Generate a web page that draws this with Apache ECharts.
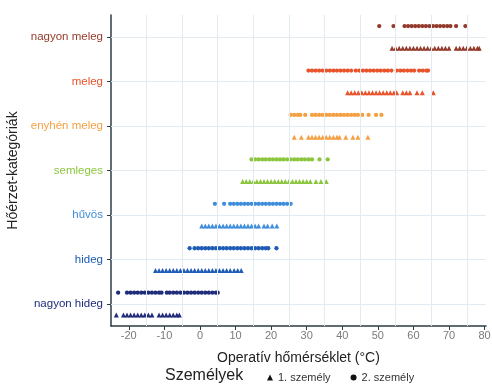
<!DOCTYPE html>
<html>
<head>
<meta charset="utf-8">
<script src="https://cdn.jsdelivr.net/npm/echarts@6/dist/echarts.min.js"></script>
<style>html,body{margin:0;padding:0;background:#fff}#c{width:492px;height:384px}</style>
</head>
<body>
<div id="c"></div>
<script>
// Categories (bottom to top)
const categories = ['nagyon hideg', 'hideg', 'hűvös', 'semleges', 'enyhén meleg', 'meleg', 'nagyon meleg'];
const catColors = ['#1f2c7a', '#1f5cb6', '#3f8ddb', '#8cc63f', '#f4a043', '#e9532b', '#933a2b'];
const xTicks = [-20, -10, 0, 10, 20, 30, 40, 50, 60, 70, 80];
const personNames = ['1. személy', '2. személy'];

// 1. személy (triangles)
const p1_nagyonHideg = [-23.5, -21.5, -20.5, -19.5, -18.5, -17.5, -16.5, -15.5, -14.5, -13.5, -11.5, -10.5, -9.5, -8.5, -7.5, -6.5, -5.8];
const p1_hideg = [-12.5, -11.5, -10.5, -9.5, -8.5, -7.5, -6.5, -5.5, -4.5, -3.5, -2.5, -1.5, -0.5, 0.5, 1.5, 2.5, 3.5, 4.5, 5.5, 6.5, 7.5, 8.5, 9.6, 10.6, 11.6];
const p1_huvos = [0.5, 1.5, 2.5, 3.5, 4.5, 5.5, 6.5, 7.5, 8.5, 9.5, 10.5, 11.5, 12.5, 13.5, 14.5, 15.5, 16.5, 18, 19, 20.3, 21.6];
const p1_semleges = [12, 13, 14, 15, 16, 17, 18, 19, 20, 21, 22, 23, 24, 25, 26, 27, 28, 29, 30, 31, 32.6, 34, 35.5];
const p1_enyhenMeleg = [26.5, 28.5, 30.5, 31.5, 32.5, 33.5, 34.5, 35.5, 36.5, 37.5, 38.5, 39.2, 41, 43, 44.4, 47.2];
const p1_meleg = [41.5, 42.5, 43.5, 44.5, 45.5, 46.5, 47.5, 48.5, 49.5, 50.5, 51.5, 52.5, 53.5, 54.5, 55.3, 57, 58, 59, 61, 62.5, 65.6];
const p1_nagyonMeleg = [54, 55, 56, 57, 58, 59, 60, 61, 62, 63, 64, 65, 66, 67, 68, 69, 70, 72, 73, 74, 75, 76, 77, 78, 78.5];

// 2. személy (circles)
const p2_nagyonHideg = [-23, -20.5, -19.5, -18.5, -17.5, -16.5, -15.5, -14.5, -13.5, -12.5, -11.5, -10.8, -9.3, -8.5, -7.5, -6.5, -5.5, -4.5, -3.5, -2.5, -1.5, -0.5, 0.5, 1.5, 2.5, 3.5, 4.5, 5];
const p2_hideg = [-2.9, -1.5, -0.5, 0.5, 1.5, 2.5, 3.5, 4.5, 5.5, 6.5, 7.5, 8.5, 9.5, 10.5, 11.5, 12.5, 13.5, 14.5, 15.5, 16.5, 17.5, 18.5, 19.2, 21.5];
const p2_huvos = [4.2, 6.8, 8.5, 9.5, 10.5, 11.5, 12.5, 13.5, 14.5, 15.5, 16.5, 17.5, 18.5, 19.5, 20.5, 21.5, 22.5, 23.5, 24.5, 25.5];
const p2_semleges = [14.5, 15.5, 16.5, 17.5, 18.5, 19.5, 20.5, 21.5, 22.5, 23.5, 24.5, 25.5, 26.5, 27.5, 28.5, 29.5, 30.5, 31.5, 33.6, 35.9];
const p2_enyhenMeleg = [25.5, 26.5, 27.5, 28.2, 29.6, 31.5, 32.5, 33.5, 34.5, 35.5, 36.5, 37.5, 38.5, 39.5, 40.5, 41.5, 42.5, 43.5, 44.4, 45.6, 47.4, 49.5, 51];
const p2_meleg = [30.5, 31.5, 32.5, 33.5, 34.5, 35.5, 36.5, 37.5, 38.5, 39.5, 40.5, 41.5, 42.5, 43.8, 44.8, 45.8, 46.8, 47.8, 48.8, 49.8, 50.8, 51.8, 52.8, 53.8, 55.3, 56.3, 57.3, 58.3, 59.3, 60.2, 61.6, 62.6, 63.6, 64.1];
const p2_nagyonMeleg = [50.4, 54.4, 57.5, 58.5, 59.5, 60.5, 61.5, 62.5, 63.5, 64.5, 65.5, 66.5, 67.5, 68.5, 69.5, 70.4, 72, 74.6];

const person1 = [p1_nagyonHideg, p1_hideg, p1_huvos, p1_semleges, p1_enyhenMeleg, p1_meleg, p1_nagyonMeleg];
const person2 = [p2_nagyonHideg, p2_hideg, p2_huvos, p2_semleges, p2_enyhenMeleg, p2_meleg, p2_nagyonMeleg];

const dodge = 0.25;
function build(groups, offset) {
  const out = [];
  groups.forEach((arr, ci) => arr.forEach(v => out.push([v, ci + 1 + offset, ci])));
  return out;
}

const gridColor = '#e2eaf2';
const vGrid = [];
for (let i = 0; i < xTicks.length - 1; i++) vGrid.push({ xAxis: (xTicks[i] + xTicks[i + 1]) / 2 });
const hGrid = categories.map((c, i) => ({ yAxis: i + 1 }));

const chart = echarts.init(document.getElementById('c'), null, { renderer: 'canvas' });
chart.setOption({
  animation: false,
  backgroundColor: '#ffffff',
  grid: { left: 111, right: 6, top: 15, bottom: 58, containLabel: false, outerBoundsMode: 'none' },
  xAxis: {
    type: 'value', min: -25, max: 80.4,
    splitLine: { show: false },
    axisLine: { show: true, onZero: false, lineStyle: { color: '#2c3b44', width: 1.5 } },
    axisTick: { show: true, customValues: xTicks, length: 4, lineStyle: { color: '#2c3b44' } },
    axisLabel: { customValues: xTicks, color: '#7a7a7a', fontSize: 11, margin: 4, fontFamily: 'Liberation Sans' },
    name: 'Operatív hőmérséklet (°C)', nameLocation: 'middle', nameGap: 25,
    nameTextStyle: { fontSize: 14, color: '#222', fontFamily: 'Liberation Sans' }
  },
  yAxis: {
    type: 'value', min: 0.5, max: 7.5,
    splitLine: { show: false },
    axisLine: { show: true, onZero: false, lineStyle: { color: '#2c3b44', width: 1.5 } },
    axisTick: { show: true, customValues: [1, 2, 3, 4, 5, 6, 7], length: 4, lineStyle: { color: '#2c3b44' } },
    axisLabel: {
      customValues: [1, 2, 3, 4, 5, 6, 7], fontSize: 11.5, margin: 8, fontFamily: 'Liberation Sans',
      formatter: v => categories[Math.round(v) - 1] || '',
      color: (v) => catColors[Math.round(Number(v)) - 1] || '#333'
    },
    name: 'Hőérzet-kategóriák', nameLocation: 'middle', nameGap: 91, nameRotate: 90,
    nameTextStyle: { fontSize: 14, color: '#222', fontFamily: 'Liberation Sans' }
  },
  legend: {
    left: 262, top: 367, itemWidth: 6, itemHeight: 6, itemGap: 20,
    textStyle: { fontSize: 11, color: '#333', fontFamily: 'Liberation Sans' },
    data: [
      { name: personNames[0], icon: 'triangle', itemStyle: { color: '#111' } },
      { name: personNames[1], icon: 'circle', itemStyle: { color: '#111' } }
    ]
  },
  graphic: [{
    type: 'text', left: 165, top: 368,
    style: { text: 'Személyek', font: '16px "Liberation Sans"', fill: '#222' }
  }],
  series: [
    {
      type: 'line', name: 'grid', data: [], z: 1, silent: true,
      markLine: {
        silent: true, symbol: ['none', 'none'], label: { show: false },
        lineStyle: { color: gridColor, width: 1, type: 'solid' },
        emphasis: { disabled: true },
        data: vGrid.concat(hGrid)
      }
    },
    {
      type: 'scatter', name: personNames[0], symbol: 'triangle', symbolSize: 5, z: 3,
      data: build(person1, -dodge),
      itemStyle: { color: p => catColors[p.data[2]], opacity: 1 }
    },
    {
      type: 'scatter', name: personNames[1], symbol: 'circle', symbolSize: 4.3, z: 3,
      data: build(person2, dodge),
      itemStyle: { color: p => catColors[p.data[2]], opacity: 1 }
    }
  ]
});
</script>
</body>
</html>
